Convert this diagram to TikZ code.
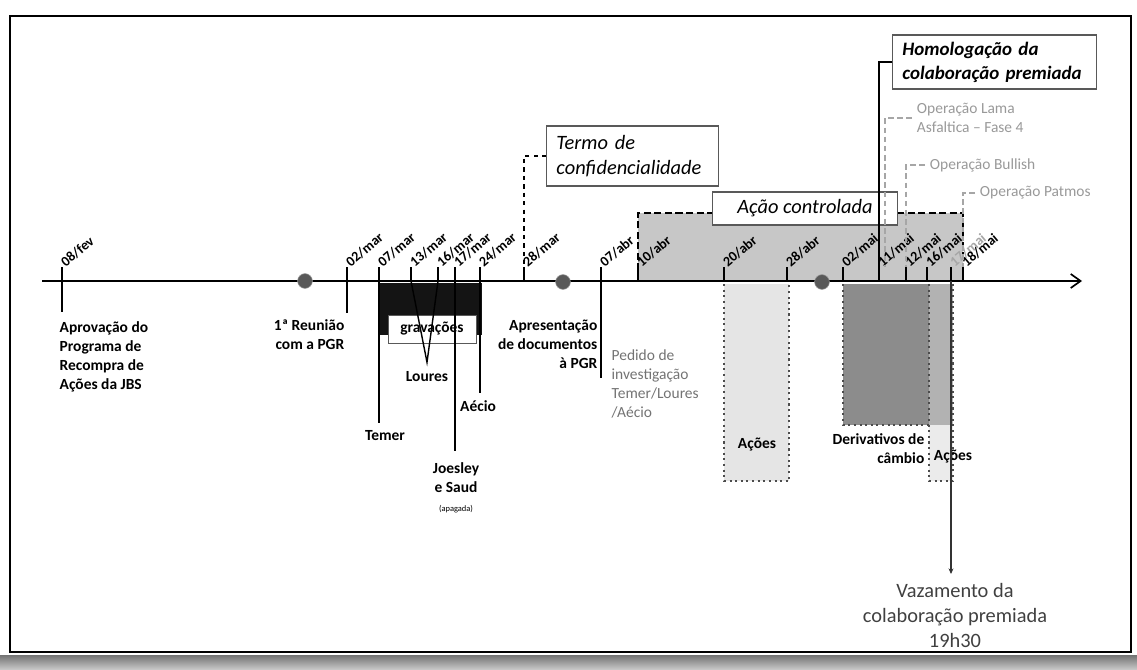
\documentclass[tikz,border=0pt]{standalone}
\usepackage{fontspec}
\setmainfont{Carlito}
\usetikzlibrary{arrows.meta,calc}

\newcommand{\fdata}{\fontsize{10}{12}\selectfont\bfseries}
\newcommand{\frot}{\fontsize{11}{13.5}\selectfont\bfseries}
\newcommand{\fped}{\fontsize{11}{13.5}\selectfont}
\newcommand{\fcaixa}{\fontsize{14.5}{17.8}\selectfont\itshape}
\newcommand{\fop}{\fontsize{11}{13.5}\selectfont}
\newcommand{\fvaz}{\fontsize{14.5}{17.8}\selectfont}

\begin{document}
\begin{tikzpicture}[x=0.025cm,y=-0.025cm,
    data/.style={rotate=40,anchor=base west,inner sep=0.5pt,font=\fdata},
    rotulo/.style={inner sep=1pt,font=\frot},
    caixa/.style={draw=black!65,fill=white,line width=0.8pt,font=\fcaixa,inner xsep=0.24cm},
    marca/.style={line width=1pt},
    pontilhado/.style={draw=black!70,line width=1.5pt,dash pattern=on 1.5pt off 2.5pt},
    operacao/.style={draw=black!35,line width=0.8pt,dash pattern=on 4pt off 2.5pt},
    bolinha/.style={circle,fill=black!65,draw=black!40,minimum size=0.37cm,inner sep=0pt}]
  \useasboundingbox (0,0) rectangle (1137,670);

  % moldura
  \shade[top color=black!55,bottom color=black!20] (0,655) rectangle (1137,670);
  \draw[line width=1.6pt] (10,16) rectangle (1131,652);

  % areas sombreadas
  \fill[black!22] (638,213) rectangle (963,281);
  \fill[black!10] (724,284) rectangle (789,481);
  \fill[black!45] (843,284) rectangle (929,425);
  \fill[black!30] (929,284) rectangle (953,425);
  \fill[black!8] (929,425) rectangle (953,481);
  \fill[black!92] (379,283) rectangle (482,335);

  % eixo
  \coordinate (inicio) at (42,281);
  \coordinate (fim) at (1082,281);
  \draw[line width=1.2pt,-{Straight Barb[length=7pt,width=10pt]}] (inicio) -- (fim);

  \foreach \x/\dd/\mm/\cor in {62/08/fev/black,347/02/mar/black,379/07/mar/black,411/13/mar/black,
      438/16/mar/black,455/17/mar/black,480/24/mar/black,524/28/mar/black,601/07/abr/black,
      638/10/abr/black,724/20/abr/black,787/28/abr/black,843/02/mai/black,879/11/mai/black,
      906/12/mai/black,927/16/mai/black,951/17/mai/black!35,963/18/mai/black}{
    \coordinate (t\dd\mm) at (\x,281);
    \coordinate (u\dd\mm) at (\x,267);
    \draw[marca] (t\dd\mm) -- (u\dd\mm);
    \node[data,text=\cor] (r\dd\mm) at ($(u\dd\mm)+(3,1)$) {\dd/\mm};
  }

  \node[bolinha] (p1) at (305,281) {};
  \node[bolinha] (p2) at (563,282) {};
  \node[bolinha] (p3) at (822,282) {};

  % acao controlada
  \draw[line width=1.5pt,dash pattern=on 5pt off 2.5pt] (t10abr) -- (638,213) -- (963,213) -- (t18mai);
  \node[caixa,minimum width=4.625cm,minimum height=0.825cm,inner ysep=0pt] (acaoctrl) at (805,208.5) {Ação controlada};

  \draw[pontilhado] (724,284) -- (724,481) -- (789,481) -- (789,284);
  \draw[pontilhado] (843,284) -- (843,425) -- (929,425);
  \draw[pontilhado] (929,284) -- (929,481) -- (953,481) -- (953,284);

  % gravacoes
  \node[draw=black!65,fill=white,font=\frot,minimum width=2.2cm,minimum height=0.7cm,inner sep=0pt] (gravacoes) at (432,329) {gravações};

  % rotulos de baixo
  \node[rotulo,anchor=north west,align=left] (aprov) at (58,320) {Aprovação do\\Programa de\\Recompra de\\Ações da JBS};
  \draw[marca,shorten >=0.2cm] (t08fev) -- (t08fev |- aprov.north);

  \node[rotulo,anchor=north east,align=right] (reuniao) at (346,318) {1ª Reunião\\com a PGR};
  \draw[marca,shorten >=0.12cm] (t02mar) -- (t02mar |- reuniao.north);

  \node[rotulo] (temer) at (385,436) {Temer};
  \draw[marca,shorten >=0.15cm] (t07mar) -- (t07mar |- temer.north);

  \node[rotulo] (loures) at (427,377) {Loures};
  \coordinate (vloures) at ($(loures.north)+(0,-8)$);
  \draw[marca] (t13mar) -- (vloures) -- (t16mar);

  \node[rotulo,anchor=north,align=center] (joesley) at (456,461) {Joesley\\e Saud\\{\fontsize{6}{7}\selectfont\mdseries(apagada)}};
  \draw[marca,shorten >=0.25cm] (t17mar) -- (t17mar |- joesley.north);

  \node[rotulo,anchor=north] (aecio) at (478,399) {Aécio};
  \draw[marca,shorten >=0.15cm] (t24mar) -- (t24mar |- aecio.north);

  \node[rotulo,anchor=north east,align=right] (apres) at (599,318) {Apresentação\\de documentos\\à PGR};
  \draw[marca] (t07abr) -- ($(t07abr |- apres.south)+(0,8)$);

  \node[rotulo,font=\fped,text=black!55,anchor=north west,align=left] (pedido) at (610,348) {Pedido de\\investigação\\Temer/Loures\\/Aécio};

  \node[rotulo] (acoesabr) at (757,445) {Ações};
  \node[rotulo,anchor=north east,align=right] (deriv) at (926,432) {Derivativos de\\câmbio};
  \node[rotulo] (acoesmai) at (953,457) {Ações};

  \node[font=\fvaz,text=black!75,align=center,anchor=north] (vazamento) at (955,578) {Vazamento da\\colaboração premiada\\19h30};
  \draw[line width=0.9pt,black!80,-{Stealth[length=4pt,width=3.5pt]}] (t17mai) -- ($(t17mai |- vazamento.north)+(0,-4)$);

  % caixas de cima
  \node[caixa,align=left,text width=3.8cm,minimum height=1.5cm] (termo) at (632.5,156) {Termo de\\confidencialidade};
  \draw[line width=1.2pt,dashed] (termo.west) -| (u28mar);

  \node[font=\fop,text=black!40,anchor=west,align=left] (lama) at (912,118) {Operação Lama\\Asfaltica – Fase 4};
  \draw[operacao] (lama.west) -| ($(u11mai)+(6,0)$);
  \node[font=\fop,text=black!40,anchor=west] (bullish) at (925,165) {Operação Bullish};
  \draw[operacao] (bullish.west) -| (u12mai);
  \node[font=\fop,text=black!40,anchor=west] (patmos) at (975,193) {Operação Patmos};
  \draw[operacao] (patmos.west) -| (u18mai);

  \node[caixa,font=\fontsize{13.5}{17}\selectfont\bfseries\itshape,align=left,text width=4.6cm,minimum height=1.35cm] (homolog) at (994.5,62) {Homologação da\\colaboração premiada};
  \draw[line width=1.2pt] (homolog.west) -| (t11mai);
\end{tikzpicture}
\end{document}
